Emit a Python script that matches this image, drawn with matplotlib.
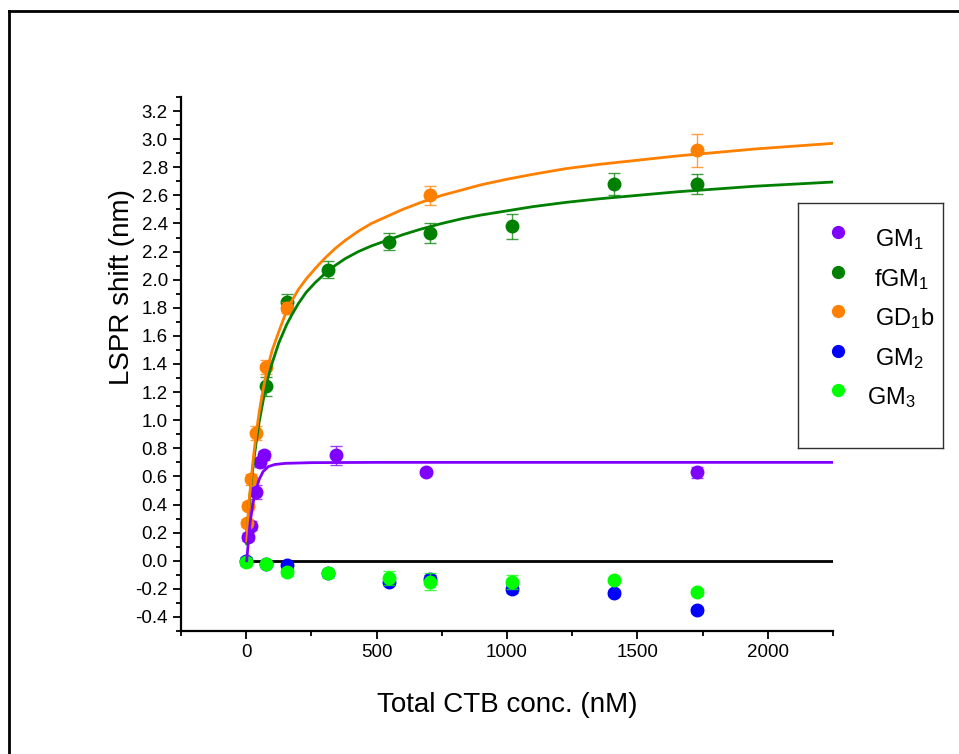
import numpy as np
import matplotlib
matplotlib.use("Agg")
import matplotlib.pyplot as plt
from matplotlib.colors import to_rgba
from matplotlib.lines import Line2D
from matplotlib.ticker import MultipleLocator


# ----------------------------
# Data
# ----------------------------
# GM1
gm1_x = [8, 19, 38, 52, 70, 345, 691, 1727]
gm1_y = [0.17, 0.25, 0.49, 0.70, 0.75, 0.75, 0.63, 0.63]
gm1_err = [0.03, 0.03, 0.05, 0.03, 0.03, 0.07, 0.02, 0.04]

# fGM1
fgm1_x = [77, 156, 313, 549, 705, 1020, 1412, 1727]
fgm1_y = [1.24, 1.84, 2.07, 2.27, 2.33, 2.38, 2.68, 2.68]
fgm1_err = [0.07, 0.06, 0.06, 0.06, 0.07, 0.09, 0.08, 0.07]

# GD1b
gd1b_x = [3, 6, 19, 38, 77, 156, 705, 1727]
gd1b_y = [0.27, 0.39, 0.58, 0.91, 1.38, 1.80, 2.60, 2.92]
gd1b_err = [0.03, 0.03, 0.04, 0.05, 0.05, 0.04, 0.07, 0.12]

# GM2
gm2_x = [0, 77, 156, 313, 549, 705, 1020, 1412, 1727]
gm2_y = [0.0, -0.02, -0.03, -0.09, -0.15, -0.13, -0.20, -0.23, -0.35]
gm2_err = [0.03, 0.02, 0.02, 0.02, 0.02, 0.03, 0.03, 0.02, 0.02]

# GM3
gm3_x = [0, 77, 156, 313, 549, 705, 1020, 1412, 1727]
gm3_y = [-0.01, -0.02, -0.08, -0.09, -0.12, -0.15, -0.15, -0.14, -0.22]
gm3_err = [0.03, 0.02, 0.03, 0.03, 0.05, 0.06, 0.05, 0.02, 0.02]

# fitted curves, points
gm1_fit_x = [2, 8, 15, 25, 35, 50, 65, 85, 110, 150, 250, 500, 1000, 1500, 2250]
gm1_fit_y = [0.0, 0.13, 0.27, 0.40, 0.49, 0.58, 0.635, 0.67, 0.685, 0.693, 0.698, 0.70, 0.70, 0.70, 0.70]

fit_x = [2.5, 6, 10, 15, 20, 28, 38, 50, 65, 80, 100, 125, 155, 175, 200, 230, 265, 300,
         340, 380, 430, 480, 540, 600, 670, 750, 830, 900, 1000, 1100, 1225, 1350,
         1500, 1650, 1800, 1950, 2100, 2250]
gd1b_fit_y = [0.14, 0.28, 0.40, 0.50, 0.60, 0.74, 0.90, 1.06, 1.22, 1.36, 1.50, 1.63, 1.78,
              1.85, 1.93, 2.005, 2.08, 2.15, 2.22, 2.28, 2.345, 2.40, 2.45, 2.50, 2.55,
              2.60, 2.64, 2.675, 2.715, 2.75, 2.79, 2.82, 2.85, 2.88, 2.905, 2.93, 2.95, 2.97]
fgm1_fit_y = [0.12, 0.26, 0.38, 0.48, 0.57, 0.70, 0.84, 0.99, 1.14, 1.28, 1.41, 1.55, 1.68,
              1.75, 1.83, 1.91, 1.98, 2.04, 2.10, 2.15, 2.20, 2.24, 2.28, 2.32, 2.36,
              2.40, 2.435, 2.46, 2.49, 2.52, 2.55, 2.575, 2.60, 2.625, 2.645, 2.665, 2.68, 2.695]

labels = ["GM$_\\mathregular{1}$", "fGM$_\\mathregular{1}$", "GD$_\\mathregular{1}$b",
          "GM$_\\mathregular{2}$", "GM$_\\mathregular{3}$"]
colors = ["#8000FF", "#008000", "#FF8000", "#0000FF", "#00FF00"]

X_MAX = 2250

# ----------------------------
# Style
# ----------------------------
plt.rcParams["font.family"] = ["Liberation Sans", "DejaVu Sans"]
plt.rcParams["mathtext.fontset"] = "custom"
plt.rcParams["mathtext.rm"] = "Liberation Sans"
plt.rcParams["mathtext.it"] = "Liberation Sans:italic"

W, H = 959, 754
fig = plt.figure(figsize=(W / 100, H / 100), dpi=100)
ax = fig.add_axes([181 / W, 1 - 631 / H, (833 - 181) / W, (631 - 97) / H])

series = [
    (gm1_x, gm1_y, gm1_err),
    (fgm1_x, fgm1_y, fgm1_err),
    (gd1b_x, gd1b_y, gd1b_err),
    (gm2_x, gm2_y, gm2_err),
    (gm3_x, gm3_y, gm3_err),
]

for i, ((x, y, e), c) in enumerate(zip(series, colors)):
    ax.errorbar(x, y, yerr=e, fmt="o", color=c, ms=9, mec=c,
                ecolor=to_rgba(c, 0.75), elinewidth=1.0, capsize=4.2, capthick=1.0,
                zorder=3 + i)

ax.hlines(0, 0, X_MAX, color="black", lw=2.0, zorder=2)
ax.plot(fit_x, fgm1_fit_y, color=colors[1], lw=2.0, zorder=9)
ax.plot(fit_x, gd1b_fit_y, color=colors[2], lw=2.0, zorder=10)
ax.plot(gm1_fit_x, gm1_fit_y, color=colors[0], lw=2.0, zorder=11)

ax.set_xlim(-250, X_MAX)
ax.set_ylim(-0.5, 3.3)
ax.xaxis.set_major_locator(MultipleLocator(500))
ax.xaxis.set_minor_locator(MultipleLocator(250))
ax.yaxis.set_minor_locator(MultipleLocator(0.1))
yt = np.arange(-0.4, 3.21, 0.2)
ax.set_yticks(yt)
ax.set_yticklabels(["%.1f" % v if abs(v) > 1e-9 else "0.0" for v in yt])

for s in ["top", "right"]:
    ax.spines[s].set_visible(False)
for s in ["left", "bottom"]:
    ax.spines[s].set_linewidth(1.6)
ax.tick_params(which="major", direction="out", length=6, width=1.3, labelsize=13.5)
ax.tick_params(which="minor", direction="out", length=3.5, width=1.3)

ax.set_xlabel("Total CTB conc. (nM)", fontsize=20, labelpad=22)
ax.set_ylabel("LSPR shift (nm)", fontsize=20)
ax.yaxis.set_label_coords(-0.07, 0.645)

# ----------------------------
# Legend box (drawn by hand to match layout)
# ----------------------------
lax = fig.add_axes([798 / W, 1 - 447.7 / H, 145 / W, 245 / H])
lax.set_xlim(0, 145)
lax.set_ylim(245, 0)
lax.set_xticks([])
lax.set_yticks([])
for s in lax.spines.values():
    s.set_linewidth(1.0)
    s.set_color("#303030")

row_y = [29.5, 69, 108.6, 148.3, 187.3]
text_x = [77, 76, 77, 77, 69]
for lbl, c, ry, tx in zip(labels, colors, row_y, text_x):
    lax.plot([40], [ry], "o", color=c, ms=8.5)
    lax.text(tx, ry + 14, lbl, fontsize=17, va="baseline", ha="left")

# outer frame (only left and top visible in the reference)
fig.add_artist(Line2D([9 / W, 9 / W], [0, 1 - 11 / H], color="black", lw=2.0,
                      transform=fig.transFigure))
fig.add_artist(Line2D([9 / W, 1], [1 - 11 / H, 1 - 11 / H], color="black", lw=2.0,
                      transform=fig.transFigure))

fig.savefig("out.png", dpi=100)
